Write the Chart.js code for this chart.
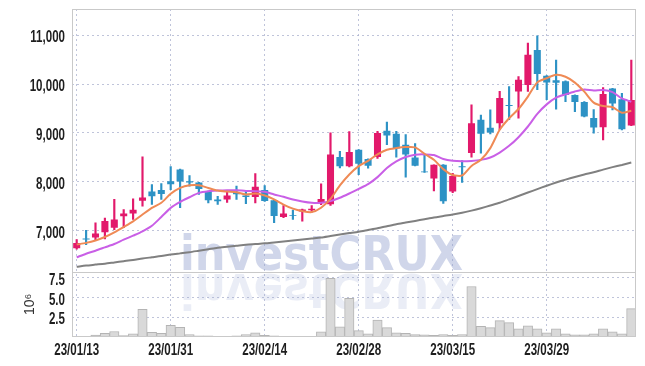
<!DOCTYPE html>
<html>
<head>
<meta charset="utf-8">
<script src="https://cdn.jsdelivr.net/npm/chart.js@4.4.1/dist/chart.umd.min.js"></script>
<style>
  html, body { margin: 0; padding: 0; background: #fff; }
</style>
</head>
<body>
<canvas id="stockChart" width="645" height="366"></canvas>
<script>
// trading days
var dates = ['23/01/13','23/01/16','23/01/17','23/01/18','23/01/19','23/01/20','23/01/25','23/01/26','23/01/27','23/01/30',
             '23/01/31','23/02/01','23/02/02','23/02/03','23/02/06','23/02/07','23/02/08','23/02/09','23/02/10','23/02/13',
             '23/02/14','23/02/15','23/02/16','23/02/17','23/02/20','23/02/21','23/02/22','23/02/23','23/02/24','23/02/27',
             '23/02/28','23/03/02','23/03/03','23/03/06','23/03/07','23/03/08','23/03/09','23/03/10','23/03/13','23/03/14',
             '23/03/15','23/03/16','23/03/17','23/03/20','23/03/21','23/03/22','23/03/23','23/03/24','23/03/27','23/03/28',
             '23/03/29','23/03/30','23/03/31','23/04/03','23/04/04','23/04/05','23/04/06','23/04/07','23/04/10','23/04/11'];

var openP  = [6640,6840,6860,6970,7060,7295,7350,7610,7800,7830, 8010,8250,8010,7985,7810,7640,7640,7790,7720,7690,
              7830,7625,7280,7320,7390,7420,7560,7540,8510,8320, 8655,8465,8510,9045,8985,8760,8495,8210,8070,8350,
              7800,8320,8590,9270,9105,9200,9570,9850,9980,10700, 10170,10080,10060,9775,9635,9305,9115,9910,9690,9155];
var highP  = [6815,7005,7160,7260,7640,7430,7650,8510,7945,7965, 8310,8260,8130,7990,7810,7705,7790,7910,7810,8170,
              7925,7630,7515,7420,7440,7515,7960,9000,8625,9030, 8660,8470,9035,9225,9035,8965,8780,8560,8350,8355,
              8175,8435,9575,9365,9475,9850,9950,10155,10840,10990, 10175,10490,10065,9780,9640,9480,9930,9915,9810,10490];
var lowP   = [6620,6715,6800,6830,7020,7060,7230,7500,7535,7640, 7840,7470,7910,7740,7570,7535,7580,7640,7555,7570,
              7600,7165,7265,7230,7195,7380,7530,7515,8285,8305, 8145,8280,8480,8760,8505,8095,8325,8190,7815,7560,
              7780,7985,8505,8585,8980,9065,9270,9300,9850,9885, 9680,9485,9640,9435,9330,8995,8855,9470,9060,9150];
var closeP = [6750,6820,6940,7200,7230,7350,7430,7680,7705,7750, 7950,8005,7985,7855,7625,7600,7720,7745,7690,7900,
              7605,7300,7350,7305,7435,7450,7650,8560,8320,8610, 8370,8330,9000,8950,8680,8560,8330,8195,8350,7600,
              8120,8300,9200,8985,9010,9715,9550,10090,10600,10205, 10035,10030,9775,9635,9335,9110,9795,9605,9075,9675];

// moving averages as drawn
var ma5  = [6715,6750,6800,6870,6965,7075,7190,7330,7465,7570, 7755,7875,7930,7930,7875,7820,7800,7785,7740,7760,
            7720,7640,7535,7450,7400,7380,7470,7650,7925,8150, 8320,8430,8560,8655,8690,8710,8705,8575,8450,8260,
            8140,8130,8325,8450,8690,9065,9300,9490,9745,10035, 10120,10190,10150,10030,9845,9620,9550,9525,9415,9455];
var ma20 = [6455,6528,6590,6658,6726,6815,6898,6986,7100,7280, 7466,7589,7684,7774,7808,7821,7828,7828,7814,7808,
            7795,7741,7693,7639,7598,7571,7571,7605,7673,7761, 7855,7952,8096,8281,8418,8507,8555,8561,8548,8466,
            8430,8421,8428,8449,8497,8599,8736,8913,9132,9391, 9585,9721,9789,9850,9891,9871,9878,9837,9707,9639];
var ma60 = [6260,6285,6305,6325,6350,6375,6400,6430,6455,6480, 6510,6535,6560,6590,6620,6650,6670,6690,6710,6725,
            6740,6760,6780,6800,6820,6840,6860,6890,6920,6950, 6980,7015,7050,7090,7130,7165,7200,7235,7270,7300,
            7330,7365,7410,7460,7515,7570,7640,7710,7780,7850, 7920,7985,8045,8100,8150,8195,8250,8300,8345,8395];

// volume, millions of shares
var volumeM = [0.1,0.1,0.23,0.45,0.7,0.19,0.41,3.5,0.58,0.45, 1.47,1.22,0.32,0.15,0.15,0.1,0.06,0.15,0.32,0.54,
               0.2,0.15,0.06,0.05,0.06,0.1,0.66,7.45,1.3,4.9, 0.8,0.41,2.16,1.18,0.54,0.45,0.3,0.28,0.2,0.32,
               0.2,0.32,6.4,1.35,1.18,2.07,1.82,1.05,1.43,1.05, 0.54,1.05,0.41,0.28,0.28,0.41,1.05,0.66,0.41,3.6];

var priceTicks = [7000, 8000, 9000, 10000, 11000];
var volumeTicks = [2.5, 5.0, 7.5];

var UP = '#E2196B', DOWN = '#2D92C5';
var GRID = 'rgba(170,176,205,0.75)';
var LABEL_FONT = 'bold 17px "Liberation Sans", Arial, sans-serif';
var SQUEEZE = 0.68; // the original tick font is a condensed face

Chart.defaults.font.family = '"Liberation Sans", "DejaVu Sans", sans-serif';
Chart.defaults.color = '#222';

var candleColors = closeP.map(function(c, i) { return c >= openP[i] ? UP : DOWN; });

function noPad(s) {
  s.paddingTop = 0; s.paddingBottom = 0; s.paddingLeft = 0; s.paddingRight = 0;
}

// condensed tick labels, drawn at the scales' own tick positions
function drawLabel(ctx, text, x, y, align) {
  ctx.save();
  ctx.translate(x, y);
  ctx.scale(SQUEEZE, 1);
  ctx.textAlign = align;
  ctx.fillText(text, 0, 0);
  ctx.restore();
}

var decoPlugin = {
  id: 'deco',
  beforeDatasetsDraw: function(chart) {
    var ctx = chart.ctx, a = chart.chartArea;
    var base = chart.scales.y.bottom - 2;
    ctx.save();
    ctx.font = 'bold 100px "DejaVu Sans"';
    var w = ctx.measureText('investCRUX').width;
    var sx = 283 / w, sy = 0.48;
    var x0 = a.left + 108;
    ctx.fillStyle = 'rgba(150,163,208,0.45)';
    ctx.save();
    ctx.translate(x0, base);
    ctx.scale(sx, sy);
    ctx.fillText('investCRUX', 0, 0);
    ctx.restore();
    ctx.fillStyle = 'rgba(150,163,208,0.2)';
    ctx.save();
    ctx.translate(x0, base + 4);
    ctx.scale(sx, -sy);
    ctx.fillText('investCRUX', 0, 0);
    ctx.restore();
    ctx.restore();
  },
  afterDraw: function(chart) {
    var ctx = chart.ctx, a = chart.chartArea, sc = chart.scales;
    ctx.save();
    ctx.strokeStyle = '#c9c9c9';
    ctx.lineWidth = 1;
    ctx.strokeRect(Math.round(a.left) + 0.5, Math.round(a.top) + 0.5,
                   Math.round(a.right - a.left) - 1, Math.round(a.bottom - a.top) - 1);
    var sy = Math.round(sc.y.bottom) + 0.5;
    ctx.beginPath();
    ctx.moveTo(a.left, sy);
    ctx.lineTo(a.right, sy);
    ctx.stroke();

    ctx.font = LABEL_FONT;
    ctx.fillStyle = '#1e1e1e';
    ctx.textBaseline = 'alphabetic';
    var xr = a.left - 7;
    sc.y.ticks.forEach(function(t) {
      drawLabel(ctx, t.value.toLocaleString('en-US'), xr, sc.y.getPixelForValue(t.value) + 7, 'right');
    });
    sc.yv.ticks.forEach(function(t) {
      drawLabel(ctx, t.value.toFixed(1), xr, sc.yv.getPixelForValue(t.value) + 7, 'right');
    });
    dates.forEach(function(d, i) {
      if (i % 10 === 0) drawLabel(ctx, d, sc.x.getPixelForValue(i), a.bottom + 18, 'center');
    });
    ctx.restore();
  }
};

var ctx = document.getElementById('stockChart').getContext('2d');
var stockChart = new Chart(ctx, {
  data: {
    labels: dates,
    datasets: [
      { type: 'line', label: 'MA5', data: ma5, borderColor: '#EF8A55', borderWidth: 2,
        pointRadius: 0, tension: 0.25, yAxisID: 'y', order: 0 },
      { type: 'line', label: 'MA20', data: ma20, borderColor: '#C95FE6', borderWidth: 2,
        pointRadius: 0, tension: 0.25, yAxisID: 'y', order: 0 },
      { type: 'line', label: 'MA60', data: ma60, borderColor: '#808080', borderWidth: 2,
        pointRadius: 0, tension: 0.25, yAxisID: 'y', order: 0 },
      { type: 'bar', label: 'wick', data: lowP.map(function(l, i) { return [l, highP[i]]; }),
        backgroundColor: candleColors, barThickness: 1.5, grouped: false, yAxisID: 'y', order: 2 },
      { type: 'bar', label: 'body', data: openP.map(function(o, i) { return [o, closeP[i]]; }),
        backgroundColor: candleColors, barPercentage: 0.75, categoryPercentage: 1,
        grouped: false, yAxisID: 'y', order: 1 },
      { type: 'bar', label: 'volume', data: volumeM, backgroundColor: '#d9d9d9',
        borderColor: '#b4b4b4', borderWidth: 1, barPercentage: 1, categoryPercentage: 1,
        grouped: false, yAxisID: 'yv', order: 3 }
    ]
  },
  options: {
    responsive: false,
    animation: false,
    devicePixelRatio: 1,
    layout: { padding: { top: 9, right: 9, left: 0, bottom: 0 } },
    plugins: { legend: { display: false }, tooltip: { enabled: false } },
    scales: {
      x: {
        type: 'category',
        offset: true,
        grid: { offset: false, color: GRID, drawTicks: false },
        border: { display: false, dash: [2, 3] },
        ticks: {
          autoSkip: false, maxRotation: 0, padding: 6, color: 'rgba(0,0,0,0)',
          font: { size: 13, weight: 'bold' },
          callback: function(v, i) { return i % 10 === 0 ? dates[i] : null; }
        },
        afterFit: function(s) { noPad(s); s.height = 29; }
      },
      yv: {
        position: 'left',
        stack: 'panels',
        stackWeight: 65,
        min: 0,
        max: 8.27,
        afterBuildTicks: function(s) { s.ticks = volumeTicks.map(function(v) { return { value: v }; }); },
        grid: { color: GRID, drawTicks: false },
        border: { display: false, dash: [2, 3] },
        ticks: { autoSkip: false, padding: 7, color: 'rgba(0,0,0,0)', font: { size: 11 } },
        title: { display: true, text: '10\u2076', padding: { top: 22, bottom: 0 },
                 font: { size: 14 }, color: '#333' },
        afterFit: function(s) { noPad(s); s.width = 72; }
      },
      y: {
        position: 'left',
        stack: 'panels',
        stackWeight: 262,
        min: 6158,
        max: 11537,
        afterBuildTicks: function(s) { s.ticks = priceTicks.map(function(v) { return { value: v }; }); },
        grid: { color: GRID, drawTicks: false },
        border: { display: false, dash: [2, 3] },
        ticks: { autoSkip: false, padding: 7, color: 'rgba(0,0,0,0)', font: { size: 11 } },
        afterFit: function(s) { noPad(s); s.width = 72; }
      }
    }
  },
  plugins: [decoPlugin]
});
</script>
</body>
</html>
